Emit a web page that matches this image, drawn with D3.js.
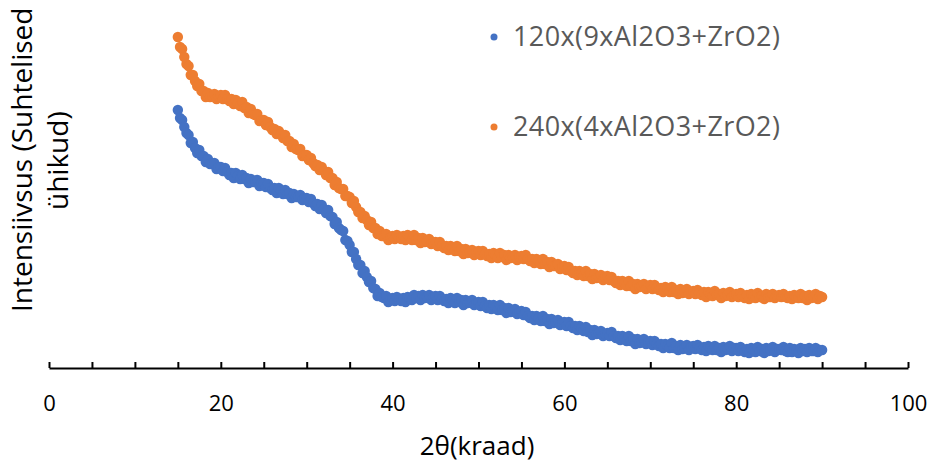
<!DOCTYPE html>
<html lang="et">
<head>
<meta charset="UTF-8">
<title>XRD</title>
<script src="https://cdn.jsdelivr.net/npm/d3@7"></script>
<style>
  body { margin: 0; background: #fff; }
  svg { display: block; font-family: "Open Sans", "Noto Sans", sans-serif; }
</style>
</head>
<body>
<div id="chart"></div>
<script>
// 2θ sampling grid (degrees), one reading every 0.25°
const twoTheta = d3.range(15, 90.1, 0.25);

// intensity readings, relative units, 20 per 5°
const series120 = [
  258, 250, 248, 241, 235, 233, 225, 226, 220, 215, 218, 212, 212, 206, 209, 204, 204, 205, 199, 201,
  201, 197, 200, 196, 193, 195, 190, 195, 192, 189, 193, 189, 190, 185, 189, 186, 186, 188, 182, 185,
  185, 181, 184, 180, 178, 180, 175, 180, 177, 174, 178, 174, 175, 170, 174, 171, 171, 173, 168, 170,
  170, 166, 169, 165, 162, 164, 159, 163, 159, 155, 158, 152, 151, 144, 146, 140, 138, 137, 128, 127,
  123, 116, 116, 109, 103, 103, 95, 97, 91, 86, 87, 80, 79, 72, 75, 71, 70, 72, 66, 69,
  70, 67, 71, 68, 67, 70, 66, 71, 70, 68, 73, 70, 72, 68, 73, 70, 71, 73, 68, 71,
  72, 68, 72, 69, 67, 69, 65, 70, 68, 65, 70, 66, 68, 63, 68, 65, 66, 68, 63, 65,
  66, 62, 66, 62, 60, 63, 59, 63, 61, 58, 63, 58, 60, 55, 60, 56, 57, 59, 54, 56,
  57, 53, 56, 52, 50, 52, 48, 52, 50, 47, 52, 47, 49, 44, 49, 45, 46, 48, 43, 45,
  46, 42, 46, 42, 40, 42, 38, 42, 40, 37, 41, 36, 38, 33, 38, 34, 35, 37, 32, 34,
  35, 32, 36, 32, 30, 32, 28, 32, 30, 27, 32, 27, 29, 24, 29, 25, 26, 29, 24, 26,
  27, 23, 27, 24, 22, 24, 20, 24, 22, 20, 25, 20, 22, 18, 23, 19, 20, 23, 18, 21,
  22, 19, 23, 20, 18, 21, 17, 22, 20, 18, 22, 18, 20, 16, 21, 18, 19, 22, 17, 20,
  20, 17, 21, 18, 16, 19, 15, 20, 18, 16, 21, 17, 19, 15, 20, 17, 18, 21, 16, 19,
  19, 18, 21, 17, 16, 20, 16, 19, 18, 15, 20, 17, 19, 16, 20, 17, 17, 20, 16, 18,
  18
];
const series240 = [
  331, 321, 319, 311, 304, 302, 293, 293, 287, 282, 284, 277, 277, 271, 275, 271, 272, 274, 269, 272,
  273, 269, 273, 269, 267, 269, 264, 268, 265, 262, 266, 260, 261, 255, 259, 254, 253, 254, 247, 248,
  248, 243, 246, 241, 238, 239, 234, 237, 234, 230, 233, 227, 227, 221, 224, 219, 218, 219, 212, 213,
  213, 208, 210, 205, 202, 203, 198, 201, 197, 193, 196, 190, 190, 183, 186, 180, 179, 179, 172, 172,
  171, 165, 167, 161, 156, 156, 150, 152, 148, 143, 146, 140, 140, 134, 137, 132, 132, 134, 128, 131,
  132, 129, 133, 130, 129, 132, 128, 133, 131, 128, 133, 128, 130, 125, 130, 126, 127, 129, 124, 126,
  126, 122, 126, 122, 120, 122, 118, 122, 120, 117, 122, 117, 119, 114, 119, 115, 116, 118, 113, 116,
  117, 113, 117, 114, 112, 114, 110, 115, 113, 110, 115, 111, 113, 108, 113, 110, 111, 113, 108, 111,
  112, 109, 113, 109, 107, 109, 105, 109, 107, 104, 109, 104, 106, 101, 106, 102, 102, 104, 99, 101,
  102, 98, 101, 97, 95, 97, 93, 97, 95, 92, 97, 92, 94, 89, 94, 90, 91, 93, 88, 91,
  92, 88, 91, 87, 85, 87, 83, 87, 85, 82, 87, 82, 84, 79, 84, 81, 82, 84, 79, 82,
  83, 79, 83, 80, 78, 80, 76, 81, 79, 76, 81, 76, 78, 74, 79, 75, 76, 79, 74, 76,
  77, 74, 78, 75, 73, 76, 71, 76, 74, 72, 77, 73, 74, 70, 75, 72, 73, 76, 71, 73,
  74, 71, 75, 72, 70, 73, 69, 74, 72, 70, 75, 71, 72, 69, 74, 71, 71, 74, 70, 72,
  73, 71, 74, 71, 70, 72, 69, 73, 71, 70, 74, 70, 72, 68, 73, 70, 71, 74, 69, 72,
  71
];
const seriesNames = ["120x(9xAl2O3+ZrO2)", "240x(4xAl2O3+ZrO2)"];
const seriesColors = ["#4472C4", "#ED7D31"];
const xTicks = d3.range(0, 101, 5);

const width = 932, height = 464;

const svg = d3.select("#chart").append("svg")
    .attr("width", width)
    .attr("height", height);

const x = d3.scaleLinear().domain([0, 100]).range([49, 908]);
const y = d3.scaleLinear().domain([0, 350]).range([368, 18]);

// dots
const allSeries = [series120, series240];
allSeries.forEach((vals, i) => {
  svg.append("g")
      .attr("fill", seriesColors[i])
    .selectAll("circle")
    .data(vals)
    .join("circle")
      .attr("cx", (d, j) => x(twoTheta[j]))
      .attr("cy", d => y(d))
      .attr("r", 5.2);
});

// x axis, ticks pointing inward
const xAxis = d3.axisBottom(x)
    .tickValues(xTicks)
    .tickFormat(d => d % 20 === 0 ? d : "")
    .tickSizeInner(-6)
    .tickSizeOuter(0)
    .tickPadding(27);

const gx = svg.append("g")
    .attr("transform", `translate(0,${y(0)})`)
    .call(xAxis);
gx.select(".domain").attr("stroke", "#000").attr("stroke-width", 2);
gx.selectAll(".tick line").attr("stroke", "#000").attr("stroke-width", 2);
gx.selectAll(".tick text")
    .attr("font-family", "Open Sans")
    .attr("font-size", 22)
    .attr("fill", "#000");

// axis titles
svg.append("text")
    .attr("x", 477)
    .attr("y", 455)
    .attr("text-anchor", "middle")
    .attr("font-size", 26)
    .attr("fill", "#000")
    .text("2θ(kraad)");

svg.append("text")
    .attr("transform", "translate(32,312) rotate(-90)")
    .attr("font-size", 28)
    .attr("fill", "#000")
    .text("Intensiivsus (Suhtelised");
svg.append("text")
    .attr("transform", "translate(68,210) rotate(-90)")
    .attr("font-size", 28)
    .attr("fill", "#000")
    .text("ühikud)");

// legend
const legend = svg.append("g");
const legendY = [37, 127];
seriesNames.forEach((name, i) => {
  legend.append("circle")
      .attr("cx", 494)
      .attr("cy", legendY[i])
      .attr("r", 3.5)
      .attr("fill", seriesColors[i]);
  legend.append("text")
      .attr("x", 513)
      .attr("y", legendY[i] + 9)
      .attr("font-size", 27)
      .attr("letter-spacing", 0.4)
      .attr("fill", "#595959")
      .text(name);
});
</script>
</body>
</html>
